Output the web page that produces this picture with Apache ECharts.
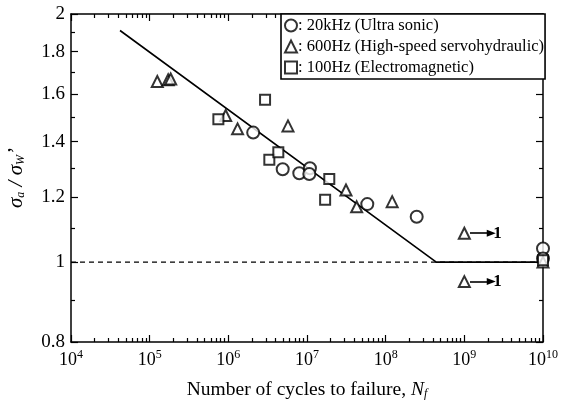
<!DOCTYPE html>
<html>
<head>
<meta charset="utf-8">
<script src="https://cdn.jsdelivr.net/npm/echarts@6/dist/echarts.min.js"></script>
<style>
html, body { margin: 0; padding: 0; background: #fff; }
#main { width: 566px; height: 402px; }
</style>
</head>
<body>
<div id="main"></div>
<script>
// points: [cycles to failure, sigma_a / sigma_w']
var ultrasonic = [[2.07e6, 1.436], [4.91e6, 1.296], [7.98e6, 1.282], [1.09e7, 1.300], [1.07e7, 1.279],
    [5.84e7, 1.176], [2.48e8, 1.135], [1e10, 1.039], [1e10, 1.01]];
var servo = [[1.25e5, 1.656], [1.72e5, 1.664], [1.85e5, 1.668], [9.25e5, 1.506], [1.31e6, 1.451],
    [5.73e6, 1.463], [3.13e7, 1.223], [4.28e7, 1.167], [1.21e8, 1.184], [1e9, 1.084], [1e9, 0.947], [1e10, 1.0]];
var electro = [[7.47e5, 1.490], [2.93e6, 1.574], [3.32e6, 1.331], [4.32e6, 1.359], [1.92e7, 1.261],
    [1.70e7, 1.190], [1e10, 1.005]];
var snCurve = [[4.2e4, 1.91], [4.4e8, 1.0], [1e10, 1.0]];
var limitLine = [[1e4, 1.0], [1e10, 1.0]];
// run-outs: arrow start, arrow end, level, count
var runouts = [[1.18e9, 2.2e9, 1.084, '1'], [1.18e9, 2.2e9, 0.947, '1']];
var xMajor = [4, 5, 6, 7, 8, 9, 10];
var yMajor = [0.8, 1, 1.2, 1.4, 1.6, 1.8, 2];
var yMinor = [0.9, 1.1, 1.3, 1.5, 1.7, 1.9];
var names = [': 20kHz (Ultra sonic)', ': 600Hz (High-speed servohydraulic)', ': 100Hz (Electromagnetic)'];

var lg = Math.log10;
var serif = '"Liberation Serif", "DejaVu Serif", serif';
function toLog(arr) {
    return arr.map(function (p) { return [lg(p[0]), lg(p[1])]; });
}
var xMinor = [];
for (var e = 4; e < 10; e++) {
    for (var k = 2; k <= 9; k++) xMinor.push(e + lg(k));
}
var yMajorLog = yMajor.map(lg), yMinorLog = yMinor.map(lg);

function axisLine(minor) {
    return { show: !minor, onZero: false, lineStyle: { color: '#000', width: 1.5 } };
}
function xAxis(pos, minor, labels) {
    return {
        type: 'value', position: pos, min: 4, max: 10,
        axisLine: axisLine(minor),
        axisTick: { show: true, inside: true, length: minor ? 4 : 7, lineStyle: { color: '#000', width: 1.2 },
            customValues: minor ? xMinor : xMajor },
        axisLabel: labels ? {
            show: true, customValues: xMajor, margin: 7,
            formatter: function (v) { return '{b|10}{e|' + Math.round(v) + '}'; },
            rich: {
                b: { fontFamily: serif, fontSize: 18, color: '#000', lineHeight: 22 },
                e: { fontFamily: serif, fontSize: 12, color: '#000', verticalAlign: 'top', lineHeight: 12 }
            }
        } : { show: false },
        splitLine: { show: false },
        name: labels ? '{t|Number of cycles to failure, }{i|N}{s|f}' : '',
        nameLocation: 'middle', nameGap: 38,
        nameTextStyle: {
            rich: {
                t: { fontFamily: serif, fontSize: 19.5, color: '#000' },
                i: { fontFamily: serif, fontSize: 19.5, fontStyle: 'italic', color: '#000' },
                s: { fontFamily: serif, fontSize: 12, fontStyle: 'italic', color: '#000', verticalAlign: 'bottom', lineHeight: 14 }
            }
        }
    };
}
function yAxis(pos, minor, labels) {
    return {
        type: 'value', position: pos, min: lg(0.8), max: lg(2),
        axisLine: axisLine(minor),
        axisTick: { show: true, inside: true, length: minor ? 4 : 7, lineStyle: { color: '#000', width: 1.2 },
            customValues: minor ? yMinorLog : yMajorLog },
        axisLabel: labels ? {
            show: true, customValues: yMajorLog, margin: 6,
            fontFamily: serif, fontSize: 19, color: '#000',
            formatter: function (v) { return String(Math.round(Math.pow(10, v) * 10) / 10); }
        } : { show: false },
        splitLine: { show: false },
        name: labels ? '{i|σ}{s|a}{i| / σ}{s|W}{i|\u2019}' : '',
        nameLocation: 'middle', nameGap: 44, nameRotate: 90,
        nameTextStyle: {
            rich: {
                i: { fontFamily: serif, fontSize: 21, fontStyle: 'italic', color: '#000' },
                s: { fontFamily: serif, fontSize: 12, fontStyle: 'italic', color: '#000', verticalAlign: 'bottom', lineHeight: 14 }
            }
        }
    };
}

function pointSeries(name, symbol, size, data) {
    return {
        name: name, type: 'scatter', symbol: symbol, symbolSize: size,
        itemStyle: { color: '#000', borderColor: '#000', borderWidth: 1.7 },
        data: toLog(data), z: 5
    };
}

var arrowLines = runouts.map(function (r) {
    return [
        { coord: [lg(r[0]), lg(r[2])] },
        { coord: [lg(r[1]), lg(r[2])], label: { show: r[3] !== '', formatter: r[3] } }
    ];
});

var chart = echarts.init(document.getElementById('main'));
chart.setOption({
    animation: false,
    backgroundColor: '#fff',
    grid: { left: 71, right: 23, top: 14, bottom: 60, show: false, outerBoundsMode: 'none', containLabel: false },
    legend: {
        orient: 'vertical', left: 281, top: 14,
        data: names, itemWidth: 12, itemHeight: 12, itemGap: 4,
        padding: [3, 1, 3, 3],
        backgroundColor: '#fff', borderColor: '#000', borderWidth: 1.6,
        textStyle: { fontFamily: serif, fontSize: 16.5, color: '#000', padding: [0, 0, 0, -4] }
    },
    xAxis: [xAxis('bottom', false, true), xAxis('bottom', true, false), xAxis('top', false, false), xAxis('top', true, false)],
    yAxis: [yAxis('left', false, true), yAxis('left', true, false), yAxis('right', false, false), yAxis('right', true, false)],
    series: [
        pointSeries(names[0], 'emptyCircle', 12, ultrasonic),
        pointSeries(names[1], 'emptyTriangle', 11, servo),
        pointSeries(names[2], 'emptyRect', 10, electro),
        {
            type: 'line', data: toLog(limitLine), symbol: 'none', silent: true,
            lineStyle: { color: '#000', width: 1.2, type: [5, 4] }
        },
        {
            type: 'line', data: toLog(snCurve), symbol: 'none', silent: true,
            lineStyle: { color: '#000', width: 1.6 },
            markLine: {
                silent: true, symbol: ['none', 'triangle'], symbolSize: [7, 9],
                lineStyle: { color: '#000', width: 1.6, type: 'solid' },
                label: { position: 'end', distance: 2, fontFamily: serif, fontSize: 17, fontWeight: 'bold', color: '#000' },
                data: arrowLines
            }
        }
    ]
});
</script>
</body>
</html>
